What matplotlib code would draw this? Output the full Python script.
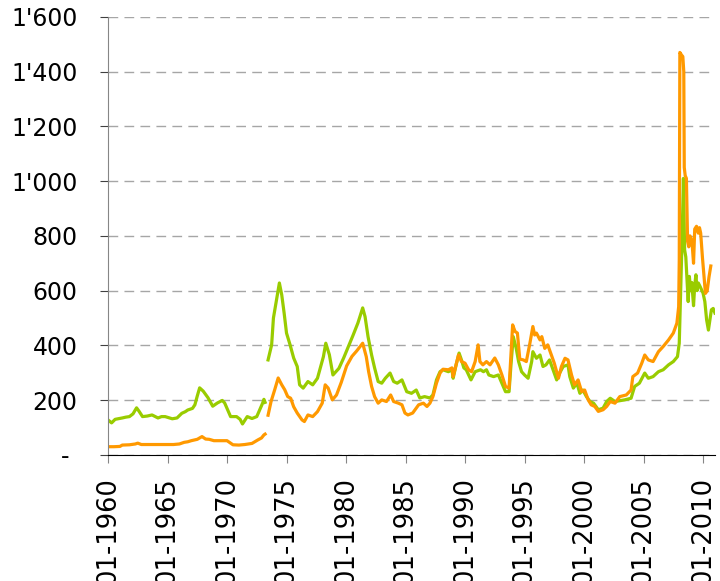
import numpy as np
import matplotlib
matplotlib.use("Agg")
import matplotlib.pyplot as plt
from matplotlib.ticker import FuncFormatter

nan = np.nan

# green series (decimal year, value)
green_years = [1960.0, 1960.3, 1960.6, 1961.2, 1961.5, 1961.8, 1962.1, 1962.4, 1962.6, 1962.9,
               1963.3, 1963.7, 1964.2, 1964.5, 1964.8, 1965.1, 1965.4, 1965.8, 1966.2, 1966.5,
               1966.7, 1967.1, 1967.3, 1967.5, 1967.7, 1968.0, 1968.4, 1968.8, 1969.2, 1969.6,
               1969.8, 1970.0, 1970.3, 1970.8, 1971.1, 1971.3, 1971.7, 1972.1, 1972.5, 1972.8,
               1973.0, 1973.1, 1973.2, 1973.3,
               1973.45, 1973.75, 1973.9, 1974.2, 1974.4, 1974.6, 1974.8, 1975.0, 1975.3, 1975.6,
               1975.9, 1976.1, 1976.4, 1976.8, 1977.2, 1977.6, 1978.1, 1978.3, 1978.6, 1978.9,
               1979.4, 1979.8, 1980.2, 1980.6, 1981.0, 1981.4, 1981.6, 1981.85, 1982.15, 1982.4,
               1982.7, 1983.0, 1983.3, 1983.7, 1984.0, 1984.3, 1984.7, 1985.1, 1985.5, 1985.9,
               1986.2, 1986.6, 1987.05, 1987.3, 1987.6, 1987.9, 1988.15, 1988.6, 1988.9, 1989.0,
               1989.25, 1989.5, 1989.7, 1989.9, 1990.1, 1990.5, 1990.85, 1991.3, 1991.55, 1991.8,
               1992.0, 1992.4, 1992.8, 1993.1, 1993.4, 1993.7, 1993.85, 1994.05, 1994.3, 1994.5,
               1994.75, 1995.0, 1995.3, 1995.6, 1995.7, 1996.0, 1996.3, 1996.55, 1996.8, 1997.1,
               1997.4, 1997.7, 1997.95, 1998.25, 1998.65, 1998.8, 1999.1, 1999.4, 1999.65, 1999.9,
               2000.2, 2000.5, 2000.8, 2001.2, 2001.6, 2001.9, 2002.2, 2002.6, 2003.0, 2003.4,
               2003.95, 2004.25, 2004.65, 2005.1, 2005.4, 2005.8, 2006.25, 2006.65, 2007.1, 2007.5,
               2007.85, 2008.0, 2008.1, 2008.25, 2008.35, 2008.45, 2008.55, 2008.65, 2008.75, 2008.85,
               2008.95, 2009.05, 2009.2, 2009.3, 2009.4, 2009.5, 2009.6, 2009.75, 2009.9, 2010.0,
               2010.15, 2010.3, 2010.45, 2010.6, 2010.7, 2010.85, 2011.0]
green_values = [128, 117, 130, 135, 138, 140, 150, 172, 160, 140,
                142, 146, 135, 140, 140, 136, 132, 135, 152, 158,
                164, 170, 183, 215, 245, 233, 209, 178, 190, 199,
                190, 170, 140, 140, 130, 113, 140, 133, 140, 170,
                190, 203, 192, nan,
                347, 402, 500, 578, 628, 584, 518, 445, 402, 354,
                323, 256, 244, 268, 256, 280, 359, 408, 366, 292,
                316, 354, 396, 438, 482, 537, 505, 432, 365, 318,
                268, 262, 280, 299, 268, 262, 274, 231, 225, 237,
                208, 213, 208, 219, 274, 304, 311, 304, 311, 280,
                329, 372, 347, 318, 311, 274, 304, 311, 304, 311,
                292, 286, 292, 262, 231, 231, 323, 432, 389, 341,
                304, 292, 280, 341, 377, 353, 365, 323, 329, 347,
                311, 274, 299, 323, 329, 286, 244, 262, 225, 237,
                213, 195, 189, 165, 171, 195, 207, 195, 198, 201,
                207, 250, 262, 299, 280, 286, 304, 311, 329, 341,
                359, 408, 566, 810, 1010, 749, 723, 640, 560, 652,
                600, 630, 545, 620, 658, 600, 628, 615, 600, 591,
                560, 493, 456, 500, 530, 535, 518]

# orange series (decimal year, value)
orange_years = [1960.0, 1960.5, 1961.0, 1961.2, 1961.8, 1962.3, 1962.5, 1962.8, 1963.5, 1964.5,
                1965.5, 1966.0, 1966.4, 1966.7, 1967.0, 1967.5, 1967.9, 1968.2, 1968.5, 1968.9,
                1969.5, 1970.0, 1970.5, 1971.0, 1971.5, 1972.1, 1972.6, 1972.9, 1973.1, 1973.2,
                1973.3,
                1973.45, 1973.7, 1974.0, 1974.3, 1974.6, 1974.85, 1975.1, 1975.35, 1975.6, 1975.9,
                1976.3, 1976.5, 1976.8, 1977.2, 1977.6, 1978.0, 1978.25, 1978.5, 1978.85, 1979.2,
                1979.6, 1980.05, 1980.5, 1980.9, 1981.4, 1981.7, 1981.9, 1982.15, 1982.4, 1982.7,
                1983.0, 1983.4, 1983.75, 1984.0, 1984.4, 1984.7, 1984.95, 1985.2, 1985.6, 1986.1,
                1986.5, 1986.8, 1987.05, 1987.3, 1987.6, 1987.9, 1988.15, 1988.6, 1988.9, 1989.0,
                1989.25, 1989.45, 1989.7, 1990.0, 1990.3, 1990.55, 1990.85, 1991.1, 1991.25, 1991.5,
                1991.8, 1992.1, 1992.5, 1992.8, 1993.1, 1993.4, 1993.7, 1993.8, 1994.0, 1994.2,
                1994.4, 1994.6, 1994.9, 1995.15, 1995.45, 1995.7, 1995.85, 1996.0, 1996.3, 1996.45,
                1996.7, 1996.95, 1997.2, 1997.5, 1997.85, 1998.1, 1998.4, 1998.65, 1998.95, 1999.2,
                1999.5, 1999.8, 2000.05, 2000.35, 2000.6, 2000.9, 2001.2, 2001.6, 2001.9, 2002.2,
                2002.6, 2003.0, 2003.55, 2003.95, 2004.1, 2004.5, 2004.85, 2005.1, 2005.4, 2005.8,
                2006.25, 2006.65, 2007.1, 2007.5, 2007.8, 2007.95, 2008.0, 2008.05, 2008.2, 2008.3,
                2008.38, 2008.42, 2008.5, 2008.6, 2008.7, 2008.8, 2008.9, 2009.0, 2009.1, 2009.2,
                2009.3, 2009.45, 2009.6, 2009.7, 2009.8, 2009.95, 2010.1, 2010.2, 2010.35, 2010.5,
                2010.65]
orange_values = [30, 30, 31, 36, 37, 40, 43, 38, 38, 38,
                 38, 40, 46, 48, 52, 57, 67, 58, 57, 52,
                 52, 52, 37, 36, 38, 42, 55, 62, 73, 76,
                 nan,
                 145, 195, 237, 281, 256, 238, 213, 207, 176, 153,
                 128, 122, 146, 140, 158, 189, 256, 244, 201, 219,
                 265, 325, 360, 380, 408, 359, 304, 250, 213, 189,
                 201, 195, 219, 195, 189, 183, 153, 146, 153, 183,
                 189, 177, 189, 213, 262, 299, 313, 311, 318, 286,
                 329, 365, 341, 335, 311, 304, 341, 402, 341, 329,
                 341, 329, 354, 329, 292, 250, 244, 323, 475, 451,
                 445, 350, 347, 341, 408, 469, 438, 445, 420, 432,
                 389, 402, 371, 335, 280, 323, 353, 347, 292, 256,
                 274, 231, 237, 201, 183, 177, 159, 165, 177, 195,
                 189, 213, 219, 237, 286, 299, 335, 365, 347, 341,
                 377, 396, 420, 445, 481, 541, 712, 1470, 1460, 1455,
                 1400, 1050, 1020, 1010, 780, 760, 800, 790, 760, 700,
                 825, 835, 810, 830, 810, 720, 640, 590, 600, 650,
                 690]

tick_years = list(range(1960, 2011, 5))
tick_labels = ["01-%d" % y for y in tick_years]


def fmt(v, pos):
    if v == 0:
        return "- "
    return "{:,}".format(int(v)).replace(",", "'")


fig = plt.figure(figsize=(7.2, 5.81), dpi=100)
ax = fig.add_axes([0.15, 0.217, 0.843, 0.754])

ax.plot(green_years, green_values, color="#99CC00", lw=2.3, solid_joinstyle="round")
ax.plot(orange_years, orange_values, color="#FF9900", lw=2.3, solid_joinstyle="round")

ax.set_xlim(1960, 2011)
ax.set_ylim(0, 1600)
ax.set_yticks(range(0, 1601, 200))
ax.yaxis.set_major_formatter(FuncFormatter(fmt))
ax.set_xticks(tick_years)
ax.set_xticklabels(tick_labels, rotation=90)

ax.grid(axis="y", color="#A6A6A6", lw=1, linestyle=(0, (7, 4.5)))
ax.set_axisbelow(True)

for s in ["top", "right"]:
    ax.spines[s].set_visible(False)
ax.spines["left"].set_color("#868686")
ax.spines["bottom"].set_color("black")
ax.tick_params(axis="y", length=6, color="#404040", labelsize=17, pad=16)
ax.tick_params(axis="x", length=6, color="#868686", labelsize=18.5, pad=10)

fig.savefig("out.png", dpi=100)
